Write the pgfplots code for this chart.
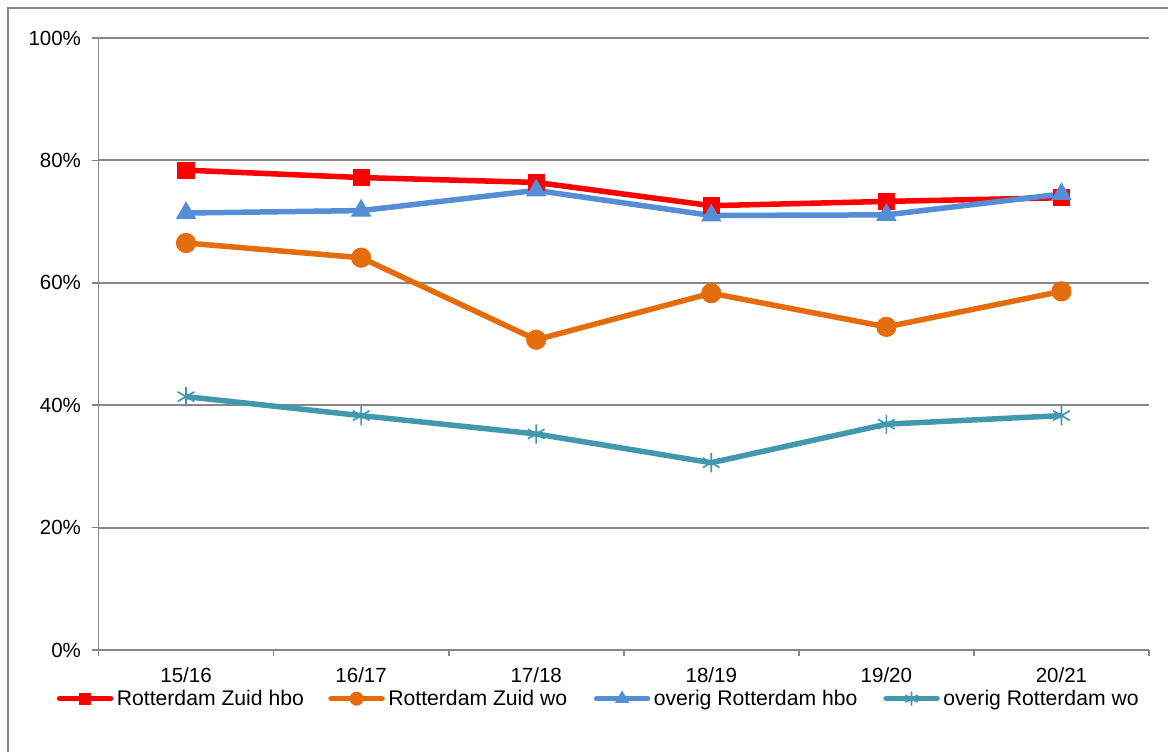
\documentclass[border=0pt]{standalone}
\usepackage{fontspec}
\setmainfont{Liberation Sans}
\usepackage{pgfplots}
\pgfplotsset{compat=1.18}
\definecolor{cred}{HTML}{FF0000}
\definecolor{corange}{HTML}{E46C0A}
\definecolor{cblue}{HTML}{558ED5}
\definecolor{cteal}{HTML}{4198AF}
\definecolor{cgrid}{HTML}{878787}
\begin{document}
\begin{tikzpicture}
\useasboundingbox (0,0) rectangle (700.8pt,450.6pt);
\draw[cgrid, line width=0.9pt] (4.8pt,-10pt) -- (4.8pt,445.8pt) -- (720pt,445.8pt);
\begin{axis}[
  at={(59.1pt,60.6pt)}, anchor=south west,
  scale only axis, width=630.3pt, height=367.2pt,
  xmin=-0.5, xmax=5.5, ymin=0, ymax=100,
  axis x line*=bottom, axis y line*=left,
  axis line style={cgrid, line width=1pt},
  xtick={0,...,5},
  xticklabels={15/16,16/17,17/18,18/19,19/20,20/21},
  minor xtick={-0.5,0.5,...,5.5},
  major x tick style={draw=none},
  minor x tick style={cgrid, line width=1pt},
  minor tick length=3.3pt,
  ytick={0,20,...,100},
  yticklabels={0\%,20\%,40\%,60\%,80\%,100\%},
  major y tick style={cgrid, line width=1pt},
  major tick length=3.6pt,
  tick align=outside,
  ymajorgrids, grid style={cgrid, line width=1.1pt},
  ticklabel style={font=\fontsize{12.3}{14}\selectfont},
  xticklabel style={inner ysep=0pt, yshift=-6.8pt},
  yticklabel style={xshift=-3.4pt},
  legend columns=4,
  legend style={draw=none, fill=none, inner sep=0pt, at={(-0.040,-0.0795)}, anchor=west,
    font=\fontsize{12.7}{14}\selectfont,
    nodes={inner xsep=0pt, inner ysep=0pt}},
  /tikz/every even column/.append style={column sep=0pt},
  legend image code/.code={\draw[mark repeat=2,mark phase=2,line cap=round,#1,every mark/.append style={scale=0.68}] plot coordinates {(0pt,0pt)(15.3pt,0pt)(30.6pt,0pt)};},
]
\addplot[cred, line width=3.3pt, mark=square*, mark size=4.9pt, mark options={solid, line width=0.5pt}] coordinates {
(0,78.4) (1,77.2) (2,76.4) (3,72.6) (4,73.3) (5,73.9)};
\addlegendentry{\makebox[129pt][l]{\,Rotterdam Zuid hbo}}
\addplot[corange, line width=3.3pt, mark=*, mark size=5.8pt, mark options={solid, line width=0.5pt}] coordinates {
(0,66.5) (1,64.1) (2,50.7) (3,58.3) (4,52.8) (5,58.6)};
\addlegendentry{\makebox[125.4pt][l]{\,Rotterdam Zuid wo}}
\addplot[cblue, line width=3.3pt, mark=triangle*, mark size=6.6pt, mark options={solid, line width=0.5pt}] coordinates {
(0,71.4) (1,71.8) (2,75.1) (3,71.0) (4,71.1) (5,74.5)};
\addlegendentry{\makebox[139.8pt][l]{\,overig Rotterdam hbo}}
\addplot[cteal, line width=3.3pt, mark=asterisk, mark size=5.8pt, mark options={solid, line width=1pt}] coordinates {
(0,41.4) (1,38.3) (2,35.3) (3,30.6) (4,36.9) (5,38.3)};
\addlegendentry{\,overig Rotterdam wo}
\end{axis}
\end{tikzpicture}
\end{document}
